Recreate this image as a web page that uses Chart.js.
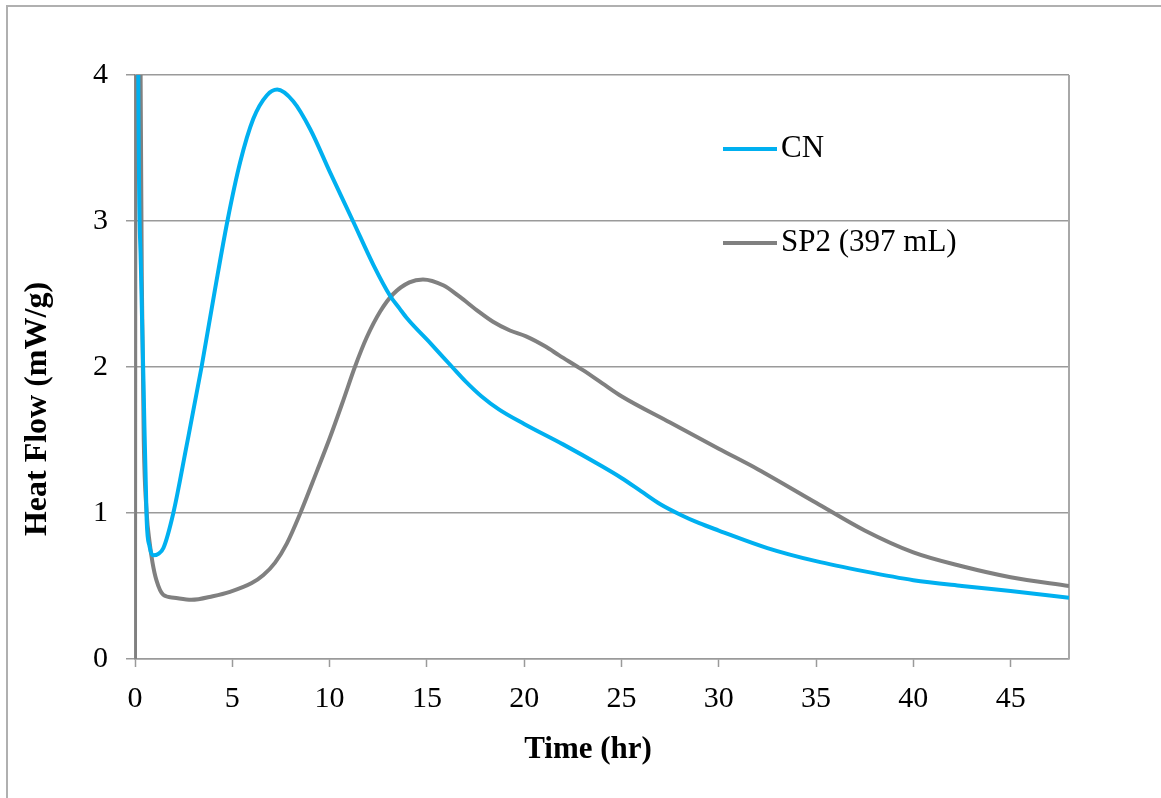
<!DOCTYPE html>
<html>
<head>
<meta charset="utf-8">
<title>Heat Flow</title>
<script src="https://cdn.jsdelivr.net/npm/chart.js@4/dist/chart.umd.min.js"></script>
<style>
  html, body { margin: 0; padding: 0; background: #fff; }
  canvas { display: block; }
</style>
</head>
<body>
<canvas id="c" width="1161" height="798"></canvas>
<script>
// Hydration heat flow curves (mW/g) vs. time (hr)
const cnTime = [0.10, 0.17, 0.30, 0.43, 0.60, 0.75, 0.94, 1.20, 1.46, 1.97, 2.65, 3.42, 4.11, 4.75, 5.40, 6.08, 6.77, 7.31, 8.13, 9.00, 10.0, 11.2, 12.25, 13.1, 13.6, 14.0, 15.2, 16.3, 17.0, 17.8, 18.7, 20.0, 22.0, 24.0, 25.0, 26.0, 27.0, 28.0, 29.0, 30.0, 32.5, 35.0, 37.5, 40.0, 42.5, 45.0, 48.0];
const cnFlow = [8.0, 4.0, 2.7, 1.94, 0.95, 0.77, 0.71, 0.72, 0.76, 1.00, 1.46, 2.00, 2.53, 3.00, 3.40, 3.70, 3.86, 3.90, 3.82, 3.63, 3.34, 3.00, 2.70, 2.49, 2.40, 2.33, 2.16, 2.00, 1.90, 1.80, 1.71, 1.61, 1.47, 1.32, 1.24, 1.15, 1.06, 0.99, 0.93, 0.88, 0.76, 0.67, 0.60, 0.54, 0.50, 0.465, 0.42];

const spTime = [0.0, 0.06, 0.28, 0.35, 0.45, 0.60, 0.75, 0.90, 1.10, 1.45, 2.0, 2.9, 4.0, 4.88, 6.0, 6.6, 7.2, 7.8, 8.5, 9.33, 10.0, 10.7, 11.3, 11.9, 12.6, 13.27, 14.1, 14.8, 15.84, 16.7, 17.56, 18.4, 19.27, 20.1, 21.1, 21.8, 23.0, 24.0, 25.0, 27.5, 30.0, 32.0, 35.0, 37.5, 40.0, 42.5, 45.0, 48.0];
const spFlow = [0.0, 10.0, 4.2, 2.6, 1.5, 1.0, 0.80, 0.66, 0.54, 0.44, 0.42, 0.405, 0.43, 0.46, 0.52, 0.575, 0.66, 0.79, 1.00, 1.28, 1.51, 1.77, 2.00, 2.20, 2.38, 2.50, 2.58, 2.60, 2.56, 2.48, 2.39, 2.31, 2.25, 2.21, 2.14, 2.08, 1.98, 1.89, 1.80, 1.62, 1.44, 1.30, 1.07, 0.88, 0.73, 0.635, 0.56, 0.50];

const seriesNames = ['CN', 'SP2 (397 mL)'];
const seriesColors = ['#00B0F0', '#808080'];

const xTicks = [0, 5, 10, 15, 20, 25, 30, 35, 40, 45];
const yTicks = [0, 1, 2, 3, 4];

const xTitle = 'Time (hr)';
const yTitle = 'Heat Flow (mW/g)';

const toPoints = (xs, ys) => xs.map((x, i) => ({ x: x, y: ys[i] }));

const SERIF = '"Liberation Serif", "Times New Roman", serif';
const GRID = '#9a9a9a';

// White background plus the frame lines along the top and left edges
const backdrop = {
  id: 'backdrop',
  beforeDraw(chart) {
    const ctx = chart.ctx;
    ctx.save();
    ctx.fillStyle = '#fff';
    ctx.fillRect(0, 0, chart.width, chart.height);
    ctx.strokeStyle = '#b0b0b0';
    ctx.lineWidth = 2;
    ctx.beginPath();
    ctx.moveTo(7, chart.height);
    ctx.lineTo(7, 6);
    ctx.lineTo(chart.width, 6);
    ctx.stroke();
    ctx.restore();
  }
};

// Right edge of the plot area, axis titles and the legend
const decorations = {
  id: 'decorations',
  beforeDatasetsDraw(chart) {
    const { ctx, chartArea } = chart;
    ctx.save();
    ctx.strokeStyle = '#a8a8a8';
    ctx.lineWidth = 2;
    ctx.beginPath();
    ctx.moveTo(chartArea.right, chartArea.top);
    ctx.lineTo(chartArea.right, chartArea.bottom);
    ctx.stroke();
    ctx.restore();
  },
  afterDatasetsDraw(chart) {
    const { ctx } = chart;
    ctx.save();
    ctx.fillStyle = '#000';
    ctx.textAlign = 'center';
    ctx.textBaseline = 'middle';
    ctx.font = 'bold 31px ' + SERIF;
    ctx.fillText(xTitle, 588, 750);
    ctx.font = 'bold 32px ' + SERIF;
    ctx.translate(38, 409);
    ctx.rotate(-Math.PI / 2);
    ctx.fillText(yTitle, 0, 0);
    ctx.restore();

    ctx.save();
    ctx.font = '31px ' + SERIF;
    ctx.textAlign = 'left';
    ctx.textBaseline = 'middle';
    const rows = [149, 243];
    chart.data.datasets.forEach((ds, i) => {
      const y = rows[i];
      ctx.strokeStyle = ds.borderColor;
      ctx.lineWidth = 4;
      ctx.beginPath();
      ctx.moveTo(723, y);
      ctx.lineTo(777, y);
      ctx.stroke();
      ctx.fillStyle = '#000';
      ctx.fillText(ds.label, 781, y);
    });
    ctx.restore();
  }
};

new Chart(document.getElementById('c'), {
  type: 'line',
  data: {
    datasets: [
      {
        label: seriesNames[0],
        data: toPoints(cnTime, cnFlow),
        borderColor: seriesColors[0],
        borderWidth: 4,
        pointRadius: 0,
        fill: false,
        cubicInterpolationMode: 'monotone'
      },
      {
        label: seriesNames[1],
        data: toPoints(spTime, spFlow),
        borderColor: seriesColors[1],
        borderWidth: 4,
        pointRadius: 0,
        fill: false,
        cubicInterpolationMode: 'monotone'
      }
    ]
  },
  options: {
    responsive: false,
    animation: false,
    devicePixelRatio: 1,
    layout: { padding: { top: 75, right: 92, left: 0, bottom: 0 } },
    plugins: {
      legend: { display: false },
      tooltip: { enabled: false }
    },
    scales: {
      x: {
        type: 'linear',
        min: 0,
        max: 48,
        afterBuildTicks(scale) {
          scale.ticks = xTicks.map(v => ({ value: v }));
        },
        afterFit(scale) { scale.height = 139; },
        ticks: {
          font: { family: SERIF, size: 30 },
          color: '#000',
          padding: 14,
          maxRotation: 0,
          autoSkip: false
        },
        grid: {
          drawOnChartArea: false,
          drawTicks: true,
          tickLength: 8,
          tickColor: GRID,
          tickWidth: 1.5
        },
        border: { display: true, color: GRID, width: 1.5 }
      },
      y: {
        type: 'linear',
        min: 0,
        max: 4,
        afterBuildTicks(scale) {
          scale.ticks = yTicks.map(v => ({ value: v }));
        },
        afterFit(scale) { scale.width = 135; },
        ticks: {
          font: { family: SERIF, size: 30 },
          color: '#000',
          padding: 18
        },
        grid: {
          color: GRID,
          lineWidth: 1.5,
          drawTicks: true,
          tickLength: 9,
          tickColor: GRID
        },
        border: { display: true, color: '#888', width: 1.5 }
      }
    }
  },
  plugins: [backdrop, decorations]
});
</script>
</body>
</html>
